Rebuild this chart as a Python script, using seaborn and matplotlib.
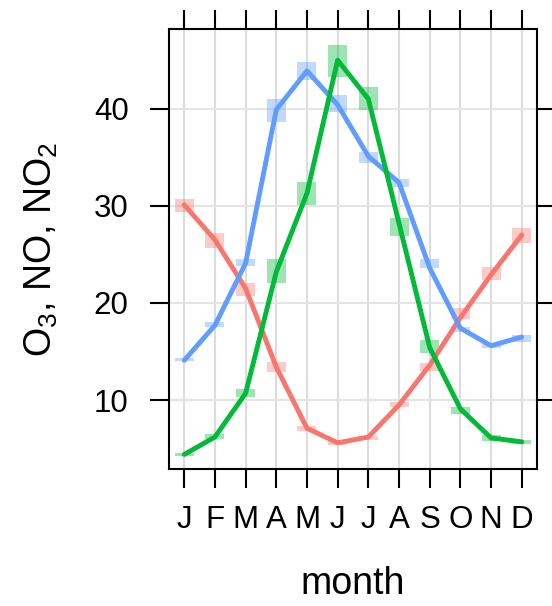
import pandas as pd
import matplotlib
matplotlib.use("Agg")
import matplotlib.pyplot as plt
import seaborn as sns
import numpy as np

# données
mois = list(range(1, 13))
etiquettes_mois = ['J', 'F', 'M', 'A', 'M', 'J', 'J', 'A', 'S', 'O', 'N', 'D']
ticks_y = [10, 20, 30, 40]

no_moy = [30.1, 26.5, 21.5, 13.4, 7.1, 5.6, 6.2, 9.5, 13.6, 18.5, 22.9, 27.0]
no_bas = [29.4, 25.7, 20.7, 12.9, 6.8, 5.4, 5.9, 9.3, 13.0, 18.4, 22.4, 26.2]
no_haut = [30.7, 27.2, 22.1, 13.9, 7.3, 5.9, 6.3, 9.8, 13.8, 19.5, 23.7, 27.7]

no2_moy = [14.1, 17.7, 24.1, 39.9, 43.9, 40.4, 35.1, 32.4, 23.6, 17.4, 15.6, 16.5]
no2_bas = [14.0, 17.5, 23.8, 38.6, 43.0, 39.7, 34.4, 31.9, 23.6, 17.0, 15.4, 16.0]
no2_haut = [14.3, 18.0, 24.5, 41.0, 44.8, 41.4, 35.5, 32.8, 24.5, 17.5, 15.9, 16.7]

o3_moy = [4.4, 6.2, 10.7, 23.2, 31.3, 45.0, 41.0, 28.2, 15.4, 9.1, 6.1, 5.7]
o3_bas = [4.2, 6.0, 10.3, 22.1, 30.1, 43.3, 39.9, 26.9, 14.8, 8.6, 5.8, 5.5]
o3_haut = [4.6, 6.5, 11.1, 24.5, 32.5, 46.6, 42.2, 28.7, 16.2, 9.3, 6.4, 5.9]

couleurs = {'NO': '#F8766D', 'NO2': '#619CFF', 'O3': '#00BA38'}

# tableau long pour seaborn
series = {'NO': (no_moy, no_bas, no_haut),
          'NO2': (no2_moy, no2_bas, no2_haut),
          'O3': (o3_moy, o3_bas, o3_haut)}
lignes = []
for nom, (moy, bas, haut) in series.items():
    for m, v, b, h in zip(mois, moy, bas, haut):
        lignes.append({'mois': m, 'valeur': v, 'bas': b, 'haut': h, 'polluant': nom})
df = pd.DataFrame(lignes)

sns.set_style("white")
plt.rcParams['font.family'] = ['Liberation Sans', 'DejaVu Sans']
plt.rcParams['mathtext.default'] = 'regular'
plt.rcParams['text.color'] = 'black'
plt.rcParams['axes.labelcolor'] = 'black'
plt.rcParams['xtick.color'] = 'black'
plt.rcParams['ytick.color'] = 'black'

fig = plt.figure(figsize=(5.52, 6.06), dpi=100)
ax = fig.add_axes([0.306, 0.226, 0.667, 0.726])

# grille
for m in mois:
    ax.axvline(m, color='#dcdcdc', lw=1.5, zorder=0)
for t in ticks_y:
    ax.axhline(t, color='#e4e4e4', lw=1.5, zorder=0)

# intervalles de confiance en rectangles
for nom in series:
    d = df[df['polluant'] == nom]
    ax.bar(d['mois'], d['haut'] - d['bas'], bottom=d['bas'], width=0.62,
           color=couleurs[nom], alpha=0.38, linewidth=0, zorder=1)

sns.lineplot(data=df, x='mois', y='valeur', hue='polluant', palette=couleurs,
             hue_order=['NO', 'NO2', 'O3'], lw=3.5, legend=False, ax=ax, zorder=2)

ax.set_xlim(0.5, 12.5)
ax.set_ylim(2.9, 48.2)
ax.set_xticks(mois)
ax.set_xticklabels(etiquettes_mois)
ax.set_yticks(ticks_y)

ax.tick_params(axis='both', which='both', direction='out', length=14, width=1.5,
               color='black', labelcolor='black', labelsize=22.5,
               bottom=True, left=True, top=True, right=True,
               labeltop=False, labelright=False)
ax.tick_params(axis='x', pad=12)
ax.tick_params(axis='y', pad=15)

for s in ax.spines.values():
    s.set_color('black')
    s.set_linewidth(1.5)

ax.set_xlabel('month', fontsize=27, labelpad=22)
ax.set_ylabel('O$_{3}$, NO, NO$_{2}$', fontsize=27, labelpad=24)

plt.savefig('out.png', dpi=100)
plt.close()
